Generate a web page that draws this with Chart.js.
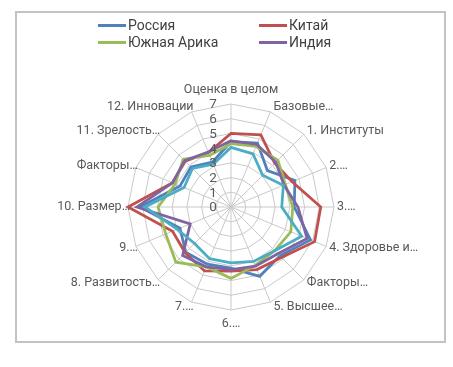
<!DOCTYPE html>
<html>
<head>
<meta charset="utf-8">
<script src="https://cdn.jsdelivr.net/npm/chart.js@4/dist/chart.umd.min.js"></script>
<style>
  html, body { margin: 0; padding: 0; background: #fff; }
  #wrap { position: relative; width: 453px; height: 367px; overflow: hidden; }
  #frame { position: absolute; left: 15px; top: 11px; width: 427px; height: 328px; border: 2px solid #c3c3c3; }
  #chart { position: absolute; left: 0; top: 0; }
  .leg { position: absolute; font: 14px Roboto, sans-serif; color: #404040; line-height: 16px; white-space: nowrap; }
  .leg span { display: inline-block; width: 28px; height: 3px; vertical-align: middle; margin-right: 2px; position: relative; top: -1px; }
</style>
</head>
<body>
<div id="wrap">
  <div id="frame"></div>
  <canvas id="chart" width="453" height="367"></canvas>
</div>
<script>
const categories = ['Оценка в целом', 'Базовые…', '1. Институты', '2.…', '3.…', '4. Здоровье и…',
  'Факторы…', '5. Высшее…', '6.…', '7.…', '8. Развитость…', '9.…', '10. Размер…',
  'Факторы…', '11. Зрелость…', '12. Инновации'];
const tickValues = [0, 1, 2, 3, 4, 5, 6, 7];

const seriesNames = ['Россия', 'Китай', 'Южная Арика', 'Индия', 'Бразилия'];
const seriesColors = ['#4f81bd', '#c0504d', '#9bbb59', '#8064a2', '#4bacc6'];
const legendCount = 4; // the fifth series is not listed in the legend

const russia = [4.45, 4.7, 3.5, 4.7, 4.3, 5.85, 4.7, 5.1, 4.15, 4.2, 4.35, 3.75, 6.2, 3.75, 3.85, 3.3];
const china = [5.0, 5.3, 4.2, 4.5, 6.1, 6.15, 4.85, 4.6, 4.35, 4.7, 4.4, 4.3, 7.0, 4.3, 4.4, 4.0];
const southAfrica = [4.3, 4.45, 4.5, 4.0, 4.2, 4.4, 4.2, 4.3, 4.85, 4.4, 5.3, 4.8, 4.95, 4.1, 4.6, 3.8];
const india = [4.5, 4.6, 4.3, 3.9, 4.55, 5.6, 4.5, 4.35, 4.25, 4.4, 4.65, 3.0, 6.4, 4.3, 4.45, 4.05];
const brazil = [4.05, 3.9, 3.05, 3.85, 3.45, 5.2, 4.2, 4.0, 3.8, 3.8, 3.5, 3.95, 5.85, 3.45, 3.7, 3.15];

const seriesData = [russia, china, southAfrica, india, brazil];

// legend, two columns like the original
const wrap = document.getElementById('wrap');
const legPos = [[98, 17], [259, 17], [98, 34], [259, 34]];
for (let i = 0; i < legendCount; i++) {
  const d = document.createElement('div');
  d.className = 'leg';
  d.style.left = legPos[i][0] + 'px';
  d.style.top = legPos[i][1] + 'px';
  d.innerHTML = '<span style="background:' + seriesColors[i] + '"></span>' + seriesNames[i];
  wrap.appendChild(d);
}

const labelPlugin = {
  id: 'excelLabels',
  afterDraw(chart) {
    const s = chart.scales.r;
    const ctx = chart.ctx;
    ctx.save();
    ctx.fillStyle = '#595959';
    ctx.textBaseline = 'middle';
    ctx.font = '12.5px Roboto, sans-serif';
    categories.forEach((lab, i) => {
      const a = s.getIndexAngle(i);
      const p = s.getPointPosition(i, s.drawingArea);
      const sin = Math.sin(a), cos = Math.cos(a);
      let x = p.x, y = p.y;
      if (Math.abs(sin) < 0.01) {
        ctx.textAlign = 'center';
        y += cos > 0 ? -14 : 14;
      } else if (sin > 0) {
        ctx.textAlign = 'left';
        x += 3;
        y -= 5 * cos;
      } else {
        ctx.textAlign = 'right';
        x += 2;
        y -= 5 * cos;
      }
      ctx.fillText(lab, x, y);
    });
    ctx.font = '13.5px Roboto, sans-serif';
    ctx.textAlign = 'center';
    tickValues.forEach(v => {
      const d = s.getDistanceFromCenterForValue(v);
      ctx.fillText(String(v), s.xCenter - 18, s.yCenter - d + 1);
    });
    ctx.restore();
  }
};

const ctx = document.getElementById('chart').getContext('2d');
const chart = new Chart(ctx, {
  type: 'radar',
  data: {
    labels: categories,
    datasets: seriesData.map((vals, i) => ({
      label: seriesNames[i],
      data: vals,
      borderColor: seriesColors[i],
      backgroundColor: 'transparent',
      borderWidth: 2.75,
      pointRadius: 0,
      fill: false,
      order: seriesData.length - i
    }))
  },
  options: {
    responsive: false,
    animation: false,
    layout: { padding: { left: 128, right: 119, top: 104, bottom: 57 } },
    plugins: { legend: { display: false }, tooltip: { enabled: false } },
    scales: {
      r: {
        min: 0,
        max: 7,
        ticks: { display: false, stepSize: 1 },
        grid: { color: '#c9c9c9', lineWidth: 1 },
        angleLines: { color: '#c9c9c9', lineWidth: 1 },
        pointLabels: { display: false }
      }
    }
  },
  plugins: [labelPlugin]
});
</script>
</body>
</html>
